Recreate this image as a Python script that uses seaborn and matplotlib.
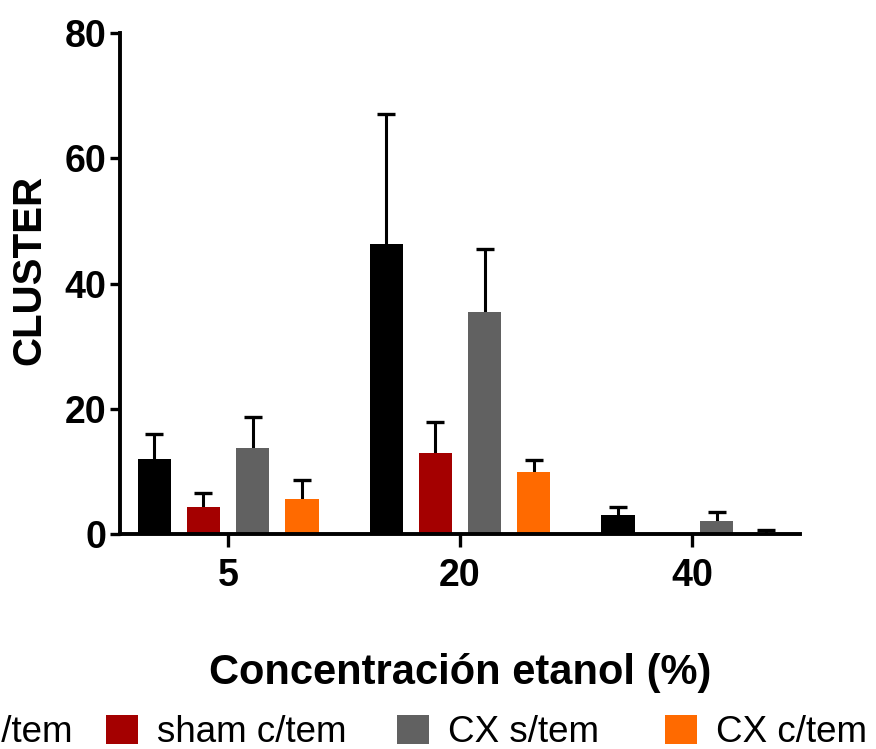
import matplotlib
matplotlib.use("Agg")
import matplotlib.pyplot as plt
from matplotlib.patches import Rectangle
import pandas as pd
import seaborn as sns

# Ethanol concentrations (%) on the x axis
concentrations = ["5", "20", "40"]

# Groups, in drawing order
groups = ["sham s/tem", "sham c/tem", "CX s/tem", "CX c/tem"]
colors = ["#000000", "#A40000", "#616161", "#FF6A00"]

# Mean CLUSTER counts per group and concentration
sham_s_mean = [12.0, 46.3, 3.0]
sham_c_mean = [4.3, 12.9, 0.0]
cx_s_mean = [13.7, 35.4, 2.1]
cx_c_mean = [5.6, 9.9, 0.2]

# Upper error (SEM) per group and concentration
sham_s_err = [4.0, 20.7, 1.3]
sham_c_err = [2.2, 5.0, 0.0]
cx_s_err = [5.0, 10.1, 1.4]
cx_c_err = [3.0, 1.9, 0.4]

means = [sham_s_mean, sham_c_mean, cx_s_mean, cx_c_mean]
errs = [sham_s_err, sham_c_err, cx_s_err, cx_c_err]

df = pd.DataFrame(
    [
        {"conc": c, "group": g, "value": m, "err": e}
        for g, ms, es in zip(groups, means, errs)
        for c, m, e in zip(concentrations, ms, es)
    ]
)

sns.set_style("ticks")
plt.rcParams["font.family"] = ["Liberation Sans", "DejaVu Sans"]
plt.rcParams["text.color"] = "black"
plt.rcParams["axes.labelcolor"] = "black"

W, H = 876, 749
fig = plt.figure(figsize=(W / 100, H / 100), dpi=100)
ax = fig.add_axes([120 / W, 1 - 534 / H, 680 / W, 501 / H])

sns.barplot(
    data=df, x="conc", y="value", hue="group",
    order=concentrations, hue_order=groups,
    palette=colors, width=0.85, gap=0.33,
    errorbar=None, saturation=1, linewidth=0,
    legend=False, ax=ax, zorder=2,
)

# Upper-only error bars: stem from the bar top plus a single cap
for patch_group, g in zip(ax.containers, groups):
    sub = df[df["group"] == g].set_index("conc").loc[concentrations]
    xs = [p.get_x() + p.get_width() / 2 for p in patch_group]
    ys = sub["value"].to_numpy()
    tops = ys + sub["err"].to_numpy()
    ax.vlines(xs, ys, tops, color="black", linewidth=2.2, zorder=1)
    ax.plot(xs, tops, linestyle="none", marker="_", markersize=12.4,
            markeredgewidth=2.4, color="black", zorder=1)

ax.set_xlim(-0.466, 2.466)
ax.set_ylim(0, 80)
ax.set_yticks([0, 20, 40, 60, 80])

sns.despine(ax=ax)
for side in ("left", "bottom"):
    ax.spines[side].set_linewidth(2.8)
    ax.spines[side].set_color("black")
    ax.spines[side].set_capstyle("projecting")
    ax.spines[side].set_zorder(3)

ax.tick_params(axis="y", length=7, width=2.4, pad=3, labelsize=27, colors="black")
ax.tick_params(axis="x", length=9, width=2.4, pad=8, labelsize=27, colors="black")
for lab in ax.get_xticklabels() + ax.get_yticklabels():
    lab.set_fontweight("bold")

ax.set_xlabel("Concentración etanol (%)", fontsize=30, fontweight="bold",
              labelpad=0, color="black")
ax.set_ylabel("CLUSTER", fontsize=29, fontweight="bold", labelpad=0, color="black")
ax.xaxis.set_label_coords(0.5, -0.237)
ax.yaxis.set_label_coords(-0.105, 0.527)

# Legend row along the bottom: colour swatch followed by its label
swatch_left = [-168, 106, 397, 665]
text_left = [-117, 157, 448, 716]
sw_w, sw_h, row_y = 32, 29, 729
for c, name, sx, tx in zip(colors, groups, swatch_left, text_left):
    fig.patches.append(Rectangle(
        (sx / W, 1 - (row_y + sw_h / 2) / H), sw_w / W, sw_h / H,
        transform=fig.transFigure, facecolor=c, edgecolor="none",
    ))
    fig.text(tx / W, 1 - row_y / H, name, fontsize=26.5, ha="left",
             va="center_baseline", color="black")

fig.savefig("out.png", dpi=100)
